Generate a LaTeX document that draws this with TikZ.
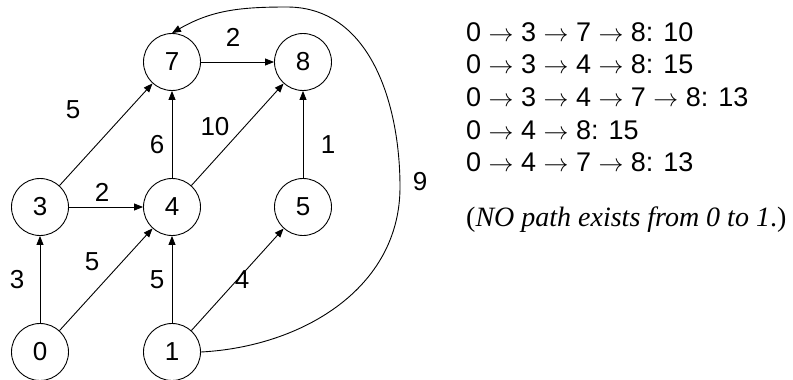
\documentclass[tikz,border=0pt]{standalone}
\usepackage{fontspec}
\setmainfont{Liberation Sans}
\newfontfamily\serifrm{Liberation Serif}
\usetikzlibrary{arrows.meta}
\begin{document}
\begin{tikzpicture}[x=1pt,y=-1pt,
  vtx/.style={circle,draw,line width=0.9pt,minimum size=57pt,inner sep=0pt,font=\fontsize{26}{30}\selectfont},
  edge/.style={line width=0.9pt,-{Triangle[length=9pt,width=7pt]}},
  wlab/.style={font=\fontsize{26}{30}\selectfont,inner sep=0pt},
  pathtxt/.style={anchor=west,font=\fontsize{27}{30}\selectfont,inner sep=0pt}]
\useasboundingbox (0,0) rectangle (793,380);
% vertices
\node[vtx] (n0) at (40,352) {0};
\node[vtx] (n1) at (172,352) {1};
\node[vtx] (n3) at (40,207) {3};
\node[vtx] (n4) at (172,207) {4};
\node[vtx] (n5) at (303,207) {5};
\node[vtx] (n7) at (172,62) {7};
\node[vtx] (n8) at (303,62) {8};
% edges
\draw[edge] (n0) -- (n3);
\draw[edge] (n0) -- (n4);
\draw[edge] (n1) -- (n4);
\draw[edge] (n1) -- (n5);
\draw[edge] (n3) -- (n4);
\draw[edge] (n3) -- (n7);
\draw[edge] (n4) -- (n7);
\draw[edge] (n4) -- (n8);
\draw[edge] (n5) -- (n8);
\draw[edge] (n7) -- (n8);
\coordinate (c9a) at (400,187);
\coordinate (c9b) at (287,7);
\draw[edge] (n1.east) to[out=3,in=-90] (c9a) to[out=90,in=0] (c9b) to[out=180,in=30] (n7.north);
% weights
\node[wlab] (w37) at (73,110) {5};
\node[wlab] (w78) at (233,37) {2};
\node[wlab] (w47) at (157,145) {6};
\node[wlab] (w48) at (215,127) {10};
\node[wlab] (w58) at (328,145) {1};
\node[wlab] (w17) at (420,182) {9};
\node[wlab] (w34) at (102,192) {2};
\node[wlab] (w04) at (92,262) {5};
\node[wlab] (w03) at (17,280) {3};
\node[wlab] (w14) at (157,280) {5};
\node[wlab] (w15) at (242,280) {4};
% path list
\node[pathtxt] (p1) at (466,32) {0 $\rightarrow$ 3 $\rightarrow$ 7 $\rightarrow$ 8: 10};
\node[pathtxt] (p2) at (466,64) {0 $\rightarrow$ 3 $\rightarrow$ 4 $\rightarrow$ 8: 15};
\node[pathtxt] (p3) at (466,97) {0 $\rightarrow$ 3 $\rightarrow$ 4 $\rightarrow$ 7 $\rightarrow$ 8: 13};
\node[pathtxt] (p4) at (466,130) {0 $\rightarrow$ 4 $\rightarrow$ 8: 15};
\node[pathtxt] (p5) at (466,162) {0 $\rightarrow$ 4 $\rightarrow$ 7 $\rightarrow$ 8: 13};
\node[pathtxt,font=\serifrm\fontsize{28}{30}\selectfont] (note) at (466,220) {(\textit{NO path exists from 0 to 1}.)};
\end{tikzpicture}
\end{document}
